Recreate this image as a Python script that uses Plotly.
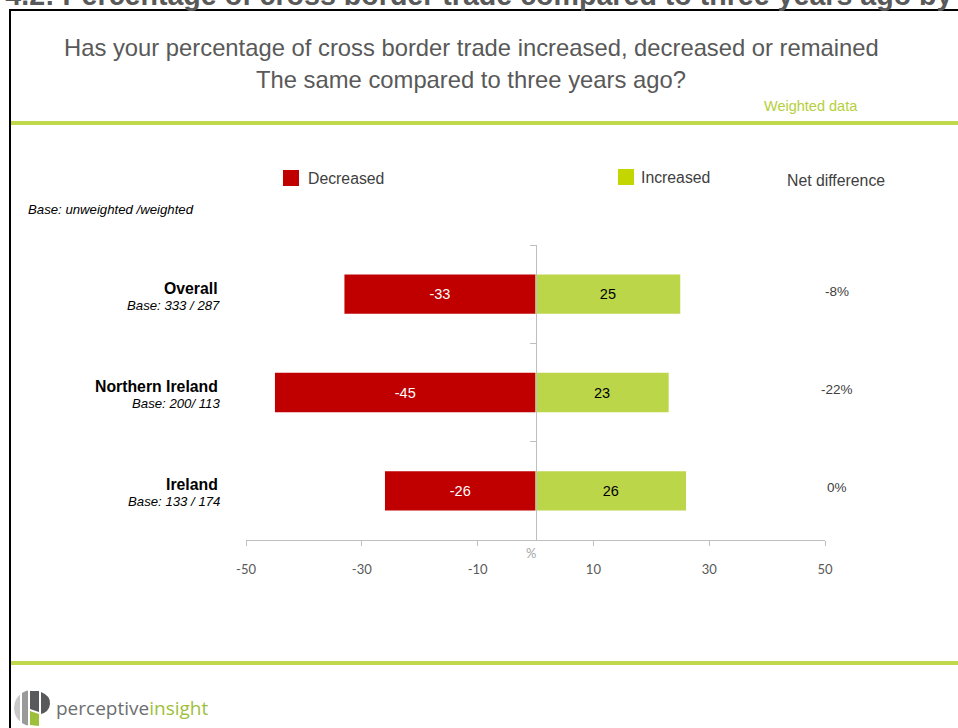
import math
import plotly.graph_objects as go

W, H = 958, 728

# ---- data -------------------------------------------------------------
regions = ["Overall", "Northern Ireland", "Ireland"]
bases = ["Base: 333 / 287", "Base: 200/ 113", "Base: 133 / 174"]
decreased = [-33, -45, -26]
increased = [25, 23, 26]
tick_values = [-50, -30, -10, 10, 30, 50]
tick_text = ["-50", "-30", "-10", "10", "30", "50"]
net_difference = [i + d for i, d in zip(increased, decreased)]

# ---- styling ----------------------------------------------------------
RED = "#C00000"
GREEN = "#BCD64A"
LEGEND_GREEN = "#C4D600"
RULE_GREEN = "#BFD84C"
TEXT_GREY = "#595959"
DARK_TEXT = "#404040"
AXIS_GREY = "#BFBFBF"
ARIAL = "Liberation Sans"


def fx(x):
    """pixel column -> paper x"""
    return x / W


def fy(y):
    """pixel row (from top) -> paper y"""
    return 1 - y / H


fig = go.Figure()

fig.add_trace(go.Bar(
    y=regions, x=decreased, orientation="h", name="Decreased",
    marker=dict(color=RED, line=dict(width=0)), width=0.4,
    text=[str(v) for v in decreased], textposition="inside",
    insidetextanchor="middle", textangle=0, constraintext="none",
    textfont=dict(family=ARIAL, size=14.5, color="white"),
    hoverinfo="skip",
))
fig.add_trace(go.Bar(
    y=regions, x=increased, orientation="h", name="Increased",
    marker=dict(color=GREEN, line=dict(width=0)), width=0.4,
    text=[str(v) for v in increased], textposition="inside",
    insidetextanchor="middle", textangle=0, constraintext="none",
    textfont=dict(family=ARIAL, size=14.5, color="black"),
    hoverinfo="skip",
))

annotations = []

# cut-off report heading along the top edge
annotations.append(dict(
    text="<b>Figure 4.2: Percentage of cross border trade compared to three years ago by</b>",
    x=fx(955), y=fy(13), xref="paper", yref="paper", xanchor="right", yanchor="bottom",
    showarrow=False, font=dict(family=ARIAL, size=28.6, color=TEXT_GREY),
))

# question title
annotations.append(dict(
    text="Has your percentage of cross border trade increased, decreased or remained",
    x=fx(471), y=fy(48), xref="paper", yref="paper", xanchor="center", yanchor="middle",
    showarrow=False, font=dict(family=ARIAL, size=23.8, color=TEXT_GREY),
))
annotations.append(dict(
    text="The same compared to three years ago?",
    x=fx(471), y=fy(79), xref="paper", yref="paper", xanchor="center", yanchor="middle",
    showarrow=False, font=dict(family=ARIAL, size=23.8, color=TEXT_GREY),
))
annotations.append(dict(
    text="Weighted data",
    x=fx(811), y=fy(106), xref="paper", yref="paper", xanchor="center", yanchor="middle",
    showarrow=False, font=dict(family=ARIAL, size=14.5, color="#B5CF3B"),
))

# legend
annotations.append(dict(
    text="Decreased", x=fx(306), y=fy(178), xref="paper", yref="paper",
    xanchor="left", yanchor="middle", showarrow=False,
    font=dict(family=ARIAL, size=15.8, color=DARK_TEXT),
))
annotations.append(dict(
    text="Increased", x=fx(639), y=fy(177), xref="paper", yref="paper",
    xanchor="left", yanchor="middle", showarrow=False,
    font=dict(family=ARIAL, size=15.8, color=DARK_TEXT),
))
annotations.append(dict(
    text="Net difference", x=fx(785), y=fy(180), xref="paper", yref="paper",
    xanchor="left", yanchor="middle", showarrow=False,
    font=dict(family=ARIAL, size=15.8, color=DARK_TEXT),
))

annotations.append(dict(
    text="<i>Base: unweighted /weighted</i>", x=fx(26), y=fy(210), xref="paper", yref="paper",
    xanchor="left", yanchor="middle", showarrow=False,
    font=dict(family=ARIAL, size=13.2, color="black"),
))

# category labels and net differences
for name, base, net in zip(regions, bases, net_difference):
    annotations.append(dict(
        text=f"<b>{name}</b>", x=fx(220), y=name, xref="paper", yref="y",
        xanchor="right", yanchor="middle", yshift=6, showarrow=False,
        font=dict(family=ARIAL, size=15.8, color="black"),
    ))
    annotations.append(dict(
        text=f"<i>{base}</i>", x=fx(222), y=name, xref="paper", yref="y",
        xanchor="right", yanchor="middle", yshift=-11, showarrow=False,
        font=dict(family=ARIAL, size=13.2, color="black"),
    ))
    annotations.append(dict(
        text=f"{net}%", x=fx(837), y=name, xref="paper", yref="y",
        xanchor="center", yanchor="middle", yshift=3, showarrow=False,
        font=dict(family=ARIAL, size=13.5, color=DARK_TEXT),
    ))

annotations.append(dict(
    text="%", x=fx(531), y=fy(553), xref="paper", yref="paper",
    xanchor="center", yanchor="middle", showarrow=False,
    font=dict(family="Lato", size=13, color="#A6A6A6"),
))

# footer brand name
annotations.append(dict(
    text="perceptive<span style='color:#9DC03A'>insight</span>",
    x=fx(54), y=fy(708), xref="paper", yref="paper", xanchor="left", yanchor="middle",
    showarrow=False, font=dict(family="Open Sans", size=19, color="#6D6E71"),
))

shapes = []
# page frame and green rules
shapes.append(dict(type="line", xref="paper", yref="paper", x0=fx(9), x1=fx(960),
                   y0=fy(10), y1=fy(10), line=dict(color="black", width=2)))
shapes.append(dict(type="line", xref="paper", yref="paper", x0=fx(10), x1=fx(10),
                   y0=fy(9), y1=fy(730), line=dict(color="black", width=2)))
for ry in (123, 663):
    shapes.append(dict(type="line", xref="paper", yref="paper", x0=fx(11), x1=fx(960),
                       y0=fy(ry), y1=fy(ry), line=dict(color=RULE_GREEN, width=4)))

# legend swatches
shapes.append(dict(type="rect", xref="paper", yref="paper", x0=fx(283), x1=fx(299),
                   y0=fy(170), y1=fy(186), fillcolor=RED, line=dict(width=0)))
shapes.append(dict(type="rect", xref="paper", yref="paper", x0=fx(618), x1=fx(634),
                   y0=fy(169), y1=fy(185), fillcolor=LEGEND_GREEN, line=dict(width=0)))


# logo emblem: vertical bands inside a circle
def band(a, b, r=18):
    pts = []
    steps = 8
    for i in range(steps + 1):
        x = a + (b - a) * i / steps
        pts.append((x, math.sqrt(max(r * r - x * x, 0))))
    for i in range(steps + 1):
        x = b - (b - a) * i / steps
        pts.append((x, -math.sqrt(max(r * r - x * x, 0))))
    return "M " + " L ".join(f"{x:.2f},{y:.2f}" for x, y in pts) + " Z"


def logo_shape(path, color):
    return dict(type="path", xref="paper", yref="paper", xsizemode="pixel", ysizemode="pixel",
                xanchor=fx(32), yanchor=fy(708), path=path, fillcolor=color, line=dict(width=0))


shapes.append(logo_shape(band(-18, -12), "#C8C8C8"))
shapes.append(logo_shape(band(-10, -4), "#9A9A9A"))
shapes.append(logo_shape("M -2,17 L 7,17 L 7,-4 L -2,-1 Z", "#58595B"))
shapes.append(logo_shape("M -2,-3 L 7,-6 L 7,-18 L -2,-17 Z", "#9DC03A"))
shapes.append(logo_shape("M 9,16 Q 19,12 18,4 Q 17,-4 9,-6 Z", "#58595B"))

fig.update_layout(
    width=W, height=H, autosize=False,
    margin=dict(l=0, r=0, t=0, b=0, pad=0, autoexpand=False),
    paper_bgcolor="white", plot_bgcolor="white",
    barmode="relative", showlegend=False,
    annotations=annotations, shapes=shapes,
    xaxis=dict(
        domain=[fx(246), fx(825)], range=[-50, 50],
        tickvals=tick_values, ticktext=tick_text,
        showline=True, linecolor=AXIS_GREY, linewidth=1,
        ticks="outside", ticklen=5, tickcolor=AXIS_GREY, tickwidth=1,
        showgrid=False, zeroline=False, ticklabelstandoff=12, automargin=False,
        tickfont=dict(family="Lato", size=13, color=TEXT_GREY),
        fixedrange=True, anchor="y",
    ),
    yaxis=dict(
        domain=[fy(540), fy(245)], type="category",
        categoryorder="array", categoryarray=regions, range=[2.5, -0.5],
        anchor="free", position=fx(536), automargin=False,
        showline=True, linecolor=AXIS_GREY, linewidth=1,
        ticks="outside", tickson="boundaries", ticklen=6, tickcolor=AXIS_GREY,
        showticklabels=False, showgrid=False, zeroline=False, fixedrange=True,
    ),
)

fig.write_html("out.html", config={"displayModeBar": False})
